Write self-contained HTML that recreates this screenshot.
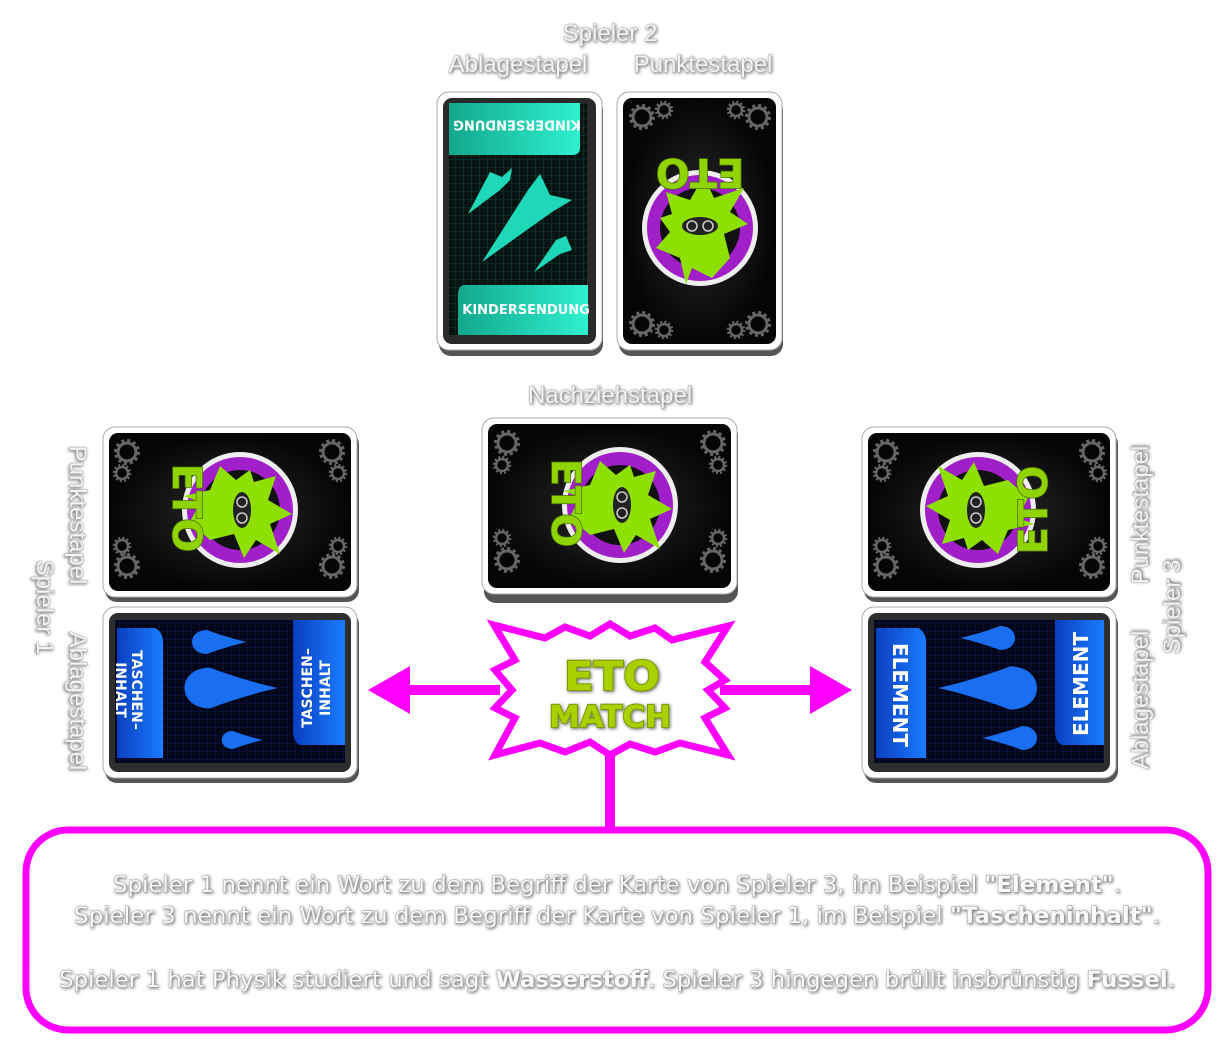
<!DOCTYPE html>
<html><head><meta charset="utf-8"><style>
html,body{margin:0;padding:0;background:#fff;width:1220px;height:1054px;overflow:hidden}
svg{display:block}
.lb{font-family:"Liberation Sans",sans-serif;font-size:24px;fill:#f4f4f4;stroke:#9a9a9a;stroke-width:0.7px;paint-order:stroke}
.tx{font-family:"DejaVu Sans",sans-serif;font-size:22px;fill:#fafafa;stroke:#888;stroke-width:0.7px;paint-order:stroke}
.cd{font-family:"DejaVu Sans",sans-serif;font-weight:bold;fill:#fff}
.eto{font-family:"DejaVu Sans",sans-serif;font-weight:bold;fill:#8fd400;stroke:#4a7000;stroke-width:1.5px;paint-order:stroke}
</style></head><body>
<svg width="1220" height="1054" viewBox="0 0 1220 1054" xmlns="http://www.w3.org/2000/svg">
<defs>
<filter id="sh" x="-10%" y="-30%" width="120%" height="160%"><feDropShadow dx="1" dy="1" stdDeviation="1.6" flood-color="#000" flood-opacity="0.6"/></filter>
<pattern id="grid" width="8" height="8" patternUnits="userSpaceOnUse"><rect width="8" height="8" fill="#061512"/><path d="M8 0V8M0 8H8" stroke="#0f4a40" stroke-width="0.8"/></pattern>
<pattern id="gridb" width="8" height="8" patternUnits="userSpaceOnUse"><rect width="8" height="8" fill="#02061a"/><path d="M8 0V8M0 8H8" stroke="#0b2060" stroke-width="0.8"/></pattern>
<radialGradient id="bk"><stop offset="0" stop-color="#2a2a2a"/><stop offset="1" stop-color="#050505"/></radialGradient>
<linearGradient id="teal" x1="0" x2="1"><stop offset="0" stop-color="#12a88c"/><stop offset="1" stop-color="#2ff0d0"/></linearGradient>
<linearGradient id="blue" x1="0" x2="1"><stop offset="0" stop-color="#0a3fc0"/><stop offset="1" stop-color="#1a7cff"/></linearGradient>
<g id="logo">
<circle r="58" fill="#eee"/><circle r="53" fill="#a01fc8"/><circle r="40" fill="#111"/>
<path d="M-12,-50 L8,-40 L14,-56 L20,-30 L44,-20 L30,-4 L40,10 L28,14 L34,36 L10,28 L-4,52 L-14,30 L-44,40 L-30,16 L-48,4 L-24,-6 L-30,-30 Z" fill="#8ee000"/>
<ellipse cx="0" cy="2" rx="18" ry="9" fill="#222"/><circle cx="-8" cy="2" r="5" fill="none" stroke="#ccc" stroke-width="1.5"/><circle cx="8" cy="2" r="5" fill="none" stroke="#ccc" stroke-width="1.5"/>
</g>
<g id="gear"><circle r="9" fill="none" stroke="#666" stroke-width="3"/><circle r="11.5" fill="none" stroke="#666" stroke-width="3" stroke-dasharray="3 3"/></g>
<g id="gear2"><circle r="6" fill="none" stroke="#666" stroke-width="2.5"/><circle r="8" fill="none" stroke="#666" stroke-width="2.5" stroke-dasharray="2 2.2"/></g>
<path id="drop" d="M0,-12 C-20,-12 -20,12 0,12 C10,8 30,2 40,0 C30,-2 10,-8 0,-12Z" fill="#1a6ff0"/>
</defs>

<text class="lb" x="610" y="41" text-anchor="middle" filter="url(#sh)">Spieler 2</text>
<text class="lb" x="518" y="72" text-anchor="middle" filter="url(#sh)">Ablagestapel</text>
<text class="lb" x="703" y="72" text-anchor="middle" filter="url(#sh)">Punktestapel</text>
<text class="lb" x="610" y="403" text-anchor="middle" filter="url(#sh)">Nachziehstapel</text>

<!-- Card: Kindersendung -->
<rect x="439" y="98" width="164" height="258" rx="12" fill="#555"/>
<rect x="437" y="92" width="165" height="258" rx="12" fill="#fff" stroke="#aaa"/>
<rect x="443" y="98" width="153" height="246" rx="9" fill="#2a2a2a"/>
<rect x="449" y="103" width="138" height="232" fill="url(#grid)"/>
<path d="M449,103 H580 V148 Q580,155 572,155 H449Z" fill="url(#teal)"/>
<text class="cd" font-size="13" transform="translate(517,124) rotate(180)" text-anchor="middle" dominant-baseline="middle">KINDERSENDUNG</text>
<path d="M465,285 H588 V335 H458 V295 Q458,285 465,285Z" fill="url(#teal)"/>
<text class="cd" font-size="13" x="526" y="314" text-anchor="middle">KINDERSENDUNG</text>
<path d="M468,214 L490,172 L502,177 L512,168 L510,180 L500,190Z" fill="#1fd8b8"/>
<path d="M482,262 L528,190 L540,174 L550,195 L572,200 L552,212Z" fill="#1fd8b8"/>
<path d="M534,272 L556,240 L566,236 L572,250 L560,254Z" fill="#1fd8b8"/>

<!-- Card: top back -->
<rect x="619" y="98" width="164" height="258" rx="12" fill="#555"/>
<rect x="617" y="92" width="165" height="258" rx="12" fill="#fff" stroke="#aaa"/>
<rect x="623" y="98" width="153" height="246" rx="9" fill="url(#bk)"/>
<use href="#gear" x="642" y="117"/><use href="#gear2" x="664" y="110"/>
<use href="#gear" x="758" y="117"/><use href="#gear2" x="736" y="110"/>
<use href="#gear" x="642" y="324"/><use href="#gear2" x="664" y="330"/>
<use href="#gear" x="758" y="324"/><use href="#gear2" x="736" y="330"/>
<use href="#logo" transform="translate(700,228) rotate(180)"/>
<text class="eto" font-size="40" transform="translate(700,170) rotate(180)" text-anchor="middle" dominant-baseline="middle">ETO</text>

<!-- Middle-left back -->
<rect x="105" y="432" width="254" height="170" rx="12" fill="#555"/>
<rect x="103" y="427" width="254" height="170" rx="12" fill="#fff" stroke="#aaa"/>
<rect x="109" y="433" width="242" height="158" rx="9" fill="url(#bk)"/>
<use href="#gear" x="127" y="452"/><use href="#gear2" x="122" y="473"/>
<use href="#gear" x="332" y="452"/><use href="#gear2" x="338" y="473"/>
<use href="#gear" x="127" y="566"/><use href="#gear2" x="122" y="546"/>
<use href="#gear" x="332" y="566"/><use href="#gear2" x="338" y="546"/>
<use href="#logo" transform="translate(240,510) rotate(-90)"/>
<text class="eto" font-size="40" transform="translate(184,508) rotate(90)" text-anchor="middle" dominant-baseline="middle">ETO</text>

<!-- Middle center back -->
<rect x="484" y="423" width="254" height="180" rx="12" fill="#555"/>
<rect x="482" y="418" width="255" height="176" rx="12" fill="#fff" stroke="#aaa"/>
<rect x="488" y="424" width="243" height="164" rx="9" fill="url(#bk)"/>
<use href="#gear" x="507" y="443"/><use href="#gear2" x="502" y="465"/>
<use href="#gear" x="713" y="443"/><use href="#gear2" x="718" y="465"/>
<use href="#gear" x="507" y="560"/><use href="#gear2" x="502" y="538"/>
<use href="#gear" x="713" y="560"/><use href="#gear2" x="718" y="538"/>
<use href="#logo" transform="translate(620,505) rotate(-90)"/>
<text class="eto" font-size="40" transform="translate(563,503) rotate(90)" text-anchor="middle" dominant-baseline="middle">ETO</text>

<!-- Middle right back -->
<rect x="864" y="432" width="254" height="170" rx="12" fill="#555"/>
<rect x="862" y="427" width="254" height="170" rx="12" fill="#fff" stroke="#aaa"/>
<rect x="868" y="433" width="242" height="158" rx="9" fill="url(#bk)"/>
<use href="#gear" x="886" y="452"/><use href="#gear2" x="882" y="473"/>
<use href="#gear" x="1092" y="452"/><use href="#gear2" x="1098" y="473"/>
<use href="#gear" x="886" y="566"/><use href="#gear2" x="882" y="546"/>
<use href="#gear" x="1092" y="566"/><use href="#gear2" x="1098" y="546"/>
<use href="#logo" transform="translate(978,510) rotate(90)"/>
<text class="eto" font-size="40" transform="translate(1036,510) rotate(-90)" text-anchor="middle" dominant-baseline="middle">ETO</text>

<!-- Left blue card -->
<rect x="105" y="612" width="254" height="171" rx="12" fill="#555"/>
<rect x="103" y="607" width="254" height="171" rx="12" fill="#fff" stroke="#aaa"/>
<rect x="109" y="613" width="242" height="159" rx="9" fill="#2e2e2e"/>
<rect x="115" y="620" width="230" height="143" fill="url(#gridb)"/>
<path d="M117,628 H155 Q163,632 163,642 V758 H117Z" fill="url(#blue)"/>
<path d="M293,620 H345 V745 H300 Q293,742 293,730Z" fill="url(#blue)"/>
<text class="cd" font-size="14" transform="translate(132,690) rotate(90)" text-anchor="middle">TASCHEN–</text>
<text class="cd" font-size="14" transform="translate(116,690) rotate(90)" text-anchor="middle">INHALT</text>
<text class="cd" font-size="14" transform="translate(312,688) rotate(-90)" text-anchor="middle">TASCHEN–</text>
<text class="cd" font-size="14" transform="translate(330,688) rotate(-90)" text-anchor="middle">INHALT</text>
<use href="#drop" transform="translate(207,642) scale(1.0)"/>
<use href="#drop" transform="translate(210,688) scale(1.7)"/>
<use href="#drop" transform="translate(233,740) scale(0.75)"/>

<!-- Right blue card -->
<rect x="864" y="612" width="254" height="171" rx="12" fill="#555"/>
<rect x="862" y="607" width="254" height="171" rx="12" fill="#fff" stroke="#aaa"/>
<rect x="868" y="613" width="242" height="159" rx="9" fill="#2e2e2e"/>
<rect x="874" y="620" width="230" height="143" fill="url(#gridb)"/>
<path d="M876,628 H918 Q926,632 926,642 V758 H876Z" fill="url(#blue)"/>
<path d="M1055,620 H1104 V745 H1062 Q1055,742 1055,730Z" fill="url(#blue)"/>
<text class="cd" font-size="20" transform="translate(893,695) rotate(90)" text-anchor="middle">ELEMENT</text>
<text class="cd" font-size="20" transform="translate(1088,684) rotate(-90)" text-anchor="middle">ELEMENT</text>
<use href="#drop" transform="translate(1000,638) scale(-1,1)"/>
<use href="#drop" transform="translate(1010,688) scale(-1.8,1.8)"/>
<use href="#drop" transform="translate(1022,738) scale(-1,1)"/>

<!-- side labels -->
<text class="lb" transform="translate(70,515) rotate(90)" text-anchor="middle" filter="url(#sh)">Punktestapel</text>
<text class="lb" transform="translate(37,607) rotate(90)" text-anchor="middle" filter="url(#sh)">Spieler 1</text>
<text class="lb" transform="translate(70,701) rotate(90)" text-anchor="middle" filter="url(#sh)">Ablagestapel</text>
<text class="lb" transform="translate(1148,515) rotate(-90)" text-anchor="middle" filter="url(#sh)">Punktestapel</text>
<text class="lb" transform="translate(1180,607) rotate(-90)" text-anchor="middle" filter="url(#sh)">Spieler 3</text>
<text class="lb" transform="translate(1148,700) rotate(-90)" text-anchor="middle" filter="url(#sh)">Ablagestapel</text>

<!-- arrows -->
<g fill="#ff00ff" stroke="none">
<rect x="400" y="685" width="100" height="10"/>
<path d="M368,690 L410,666 L410,714Z"/>
<rect x="720" y="685" width="100" height="10"/>
<path d="M852,690 L810,666 L810,714Z"/>
<rect x="605" y="750" width="10" height="80"/>
</g>
<polygon points="494,625 545,638 565,627 590,636 610,624 630,636 655,628 672,640 728,626 705,662 725,680 708,690 725,708 705,718 728,755 680,743 655,752 630,744 610,755 590,742 565,752 540,743 495,755 515,718 495,708 512,690 495,670 515,660" fill="#fff" stroke="#ff00ff" stroke-width="7" stroke-linejoin="miter"/>
<text class="eto" font-size="40" x="612" y="690" text-anchor="middle" style="fill:#aad000;stroke:#7a9a00;stroke-width:2px" filter="url(#sh)" textLength="96" lengthAdjust="spacingAndGlyphs">ETO</text>
<text class="eto" font-size="30" x="610" y="727" text-anchor="middle" style="fill:#aad000;stroke:#7a9a00;stroke-width:2px" filter="url(#sh)" textLength="122" lengthAdjust="spacingAndGlyphs">MATCH</text>

<!-- bottom box -->
<rect x="26" y="830" width="1182" height="200" rx="42" fill="#fff" stroke="#ff00ff" stroke-width="7"/>
<g filter="url(#sh)">
<text class="tx" x="617" y="892" text-anchor="middle" textLength="1008" lengthAdjust="spacingAndGlyphs">Spieler 1 nennt ein Wort zu dem Begriff der Karte von Spieler 3, im Beispiel <tspan font-weight="bold">"Element"</tspan>.</text>
<text class="tx" x="617" y="923" text-anchor="middle" textLength="1086" lengthAdjust="spacingAndGlyphs">Spieler 3 nennt ein Wort zu dem Begriff der Karte von Spieler 1, im Beispiel <tspan font-weight="bold">"Tascheninhalt"</tspan>.</text>
<text class="tx" x="617" y="987" text-anchor="middle" textLength="1116" lengthAdjust="spacingAndGlyphs">Spieler 1 hat Physik studiert und sagt <tspan font-weight="bold">Wasserstoff</tspan>. Spieler 3 hingegen brüllt insbrünstig <tspan font-weight="bold">Fussel</tspan>.</text>
</g>
</svg>
</body></html>
